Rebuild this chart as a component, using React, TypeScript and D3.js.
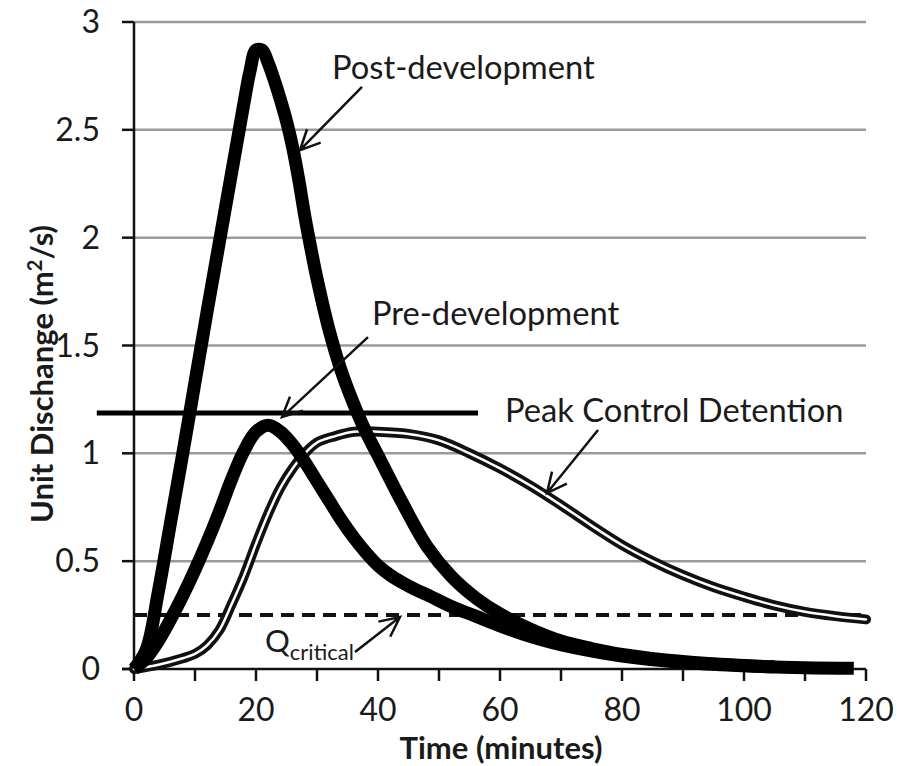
import React from "react";
import * as d3 from "d3";

const W = 902;
const H = 766;

const xTicks = [0, 20, 40, 60, 80, 100, 120];
const xMinorTicks = [0, 10, 20, 30, 40, 50, 60, 70, 80, 90, 100, 110, 120];
const yTicks = [0, 0.5, 1, 1.5, 2, 2.5, 3];
const yTickLabels = ["0", "0.5", "1", "1.5", "2", "2.5", "3"];

const postTime = [0, 2, 4, 6, 8, 10, 12, 14, 16, 18, 19, 20, 21, 22, 23, 24, 25, 26, 27, 28, 29, 30, 32, 34, 36, 38, 40, 44, 48, 52, 56, 60, 65, 70, 75, 80, 90, 100, 105];
const postFlow = [0, 0.09, 0.36, 0.68, 1.0, 1.33, 1.66, 1.98, 2.3, 2.62, 2.77, 2.87, 2.87, 2.81, 2.73, 2.64, 2.54, 2.42, 2.27, 2.1, 1.95, 1.81, 1.57, 1.38, 1.23, 1.1, 0.99, 0.77, 0.57, 0.43, 0.33, 0.255, 0.185, 0.13, 0.095, 0.068, 0.035, 0.016, 0.01];

const preTime = [0, 2, 4, 6, 8, 10, 12, 14, 16, 18, 20, 22, 24, 26, 28, 30, 32, 34, 36, 38, 40, 42, 44, 46, 48, 52, 56, 60, 64, 68, 72, 80, 90, 100, 110, 118];
const preFlow = [0, 0.05, 0.13, 0.23, 0.34, 0.46, 0.59, 0.73, 0.88, 1.01, 1.1, 1.13, 1.1, 1.04, 0.96, 0.87, 0.78, 0.69, 0.61, 0.54, 0.48, 0.435, 0.4, 0.37, 0.345, 0.29, 0.245, 0.2, 0.16, 0.127, 0.1, 0.06, 0.03, 0.015, 0.006, 0.003];

const detTime = [0, 4, 8, 10, 12, 14, 16, 18, 20, 22, 24, 26, 28, 30, 33, 36, 40, 45, 50, 55, 60, 65, 70, 75, 80, 85, 90, 95, 100, 105, 110, 115, 120];
const detFlow = [0, 0.02, 0.05, 0.07, 0.11, 0.18, 0.3, 0.43, 0.58, 0.72, 0.84, 0.93, 1.0, 1.05, 1.08, 1.1, 1.1, 1.09, 1.06, 1.0, 0.93, 0.85, 0.76, 0.665, 0.575, 0.5, 0.435, 0.38, 0.335, 0.295, 0.265, 0.245, 0.23];

const qCritical = 0.25;
const peakLine = { t0: -6.1, t1: 56.4, v: 1.187 };

// annotation texts and arrows, in data units (minutes, m2/s)
const labels = [
  { text: "Post-development", t: 32.46, v: 2.736 },
  { text: "Pre-development", t: 39.0, v: 1.595 },
  { text: "Peak Control Detention", t: 60.82, v: 1.145 },
];
const arrows = [
  { t0: 37.38, v0: 2.699, t1: 27.21, v1: 2.406 },
  { t0: 38.36, v0: 1.539, t1: 24.26, v1: 1.168 },
  { t0: 76.07, v0: 1.108, t1: 67.7, v1: 0.816 },
  { t0: 36.23, v0: 0.079, t1: 43.6, v1: 0.241 },
];
const qLabel = { t: 21.48, v: 0.079 };

export default function App() {
  const x = d3.scaleLinear().domain([0, 120]).range([134, 866]);
  const y = d3.scaleLinear().domain([0, 3]).range([669, 22]);

  const line = d3
    .line<[number, number]>()
    .x((d) => x(d[0]))
    .y((d) => y(d[1]))
    .curve(d3.curveCatmullRom.alpha(0.5));

  const post = line(postTime.map((t, i) => [t, postFlow[i]]) as [number, number][]) || "";
  const pre = line(preTime.map((t, i) => [t, preFlow[i]]) as [number, number][]) || "";
  const det = line(detTime.map((t, i) => [t, detFlow[i]]) as [number, number][]) || "";

  const font = "Lato, 'Open Sans', sans-serif";

  const arrowPath = (a: { t0: number; v0: number; t1: number; v1: number }) => {
    const x0 = x(a.t0), y0 = y(a.v0), x1 = x(a.t1), y1 = y(a.v1);
    const ang = Math.atan2(y0 - y1, x0 - x1);
    const L = 22;
    const spread = 0.45;
    const bx1 = x1 + L * Math.cos(ang + spread);
    const by1 = y1 + L * Math.sin(ang + spread);
    const bx2 = x1 + L * Math.cos(ang - spread);
    const by2 = y1 + L * Math.sin(ang - spread);
    return `M${x0},${y0}L${x1},${y1}M${bx1},${by1}L${x1},${y1}L${bx2},${by2}`;
  };

  return (
    <svg
      width={W}
      height={H}
      style={{ position: "absolute", left: 0, top: 0, background: "#fff" }}
      fontFamily={font}
    >
      <rect x={0} y={0} width={W} height={H} fill="#fff" />
      {/* gridlines */}
      {yTicks.slice(1).map((v) => (
        <line key={"g" + v} x1={x(0)} x2={x(120)} y1={y(v)} y2={y(v)} stroke="#9a9a9a" strokeWidth={2.5} />
      ))}
      {/* y axis */}
      <line x1={x(0)} x2={x(0)} y1={y(3)} y2={y(0)} stroke="#111" strokeWidth={2.5} />
      {yTicks.map((v, i) => (
        <g key={"yt" + v}>
          <line x1={x(0) - 12} x2={x(0)} y1={y(v)} y2={y(v)} stroke="#111" strokeWidth={2.5} />
          <text x={100} y={y(v) + 11} textAnchor="end" fontSize={32} fill="#1a1a1a">
            {yTickLabels[i]}
          </text>
        </g>
      ))}
      {/* x axis */}
      <line x1={x(0) - 12} x2={x(120)} y1={y(0)} y2={y(0)} stroke="#111" strokeWidth={2.5} />
      {xMinorTicks.map((t) => (
        <line key={"xm" + t} x1={x(t)} x2={x(t)} y1={y(0)} y2={y(0) + 12} stroke="#111" strokeWidth={2.5} />
      ))}
      {xTicks.map((t) => (
        <text key={"xt" + t} x={x(t)} y={721} textAnchor="middle" fontSize={32} fill="#1a1a1a">
          {t}
        </text>
      ))}

      {/* axis titles */}
      <text x={501} y={759} textAnchor="middle" fontSize={31} fontWeight="bold" fill="#1a1a1a">
        Time (minutes)
      </text>
      <text
        transform={`translate(53,374) rotate(-90)`}
        textAnchor="middle"
        fontSize={31}
        fontWeight="bold"
        fill="#1a1a1a"
      >
        Unit Dischange (m<tspan dy={-11} fontSize={20}>2</tspan>
        <tspan dy={11}>/s)</tspan>
      </text>

      {/* Q critical dashed line */}
      <line
        x1={x(0)}
        x2={x(120)}
        y1={y(qCritical)}
        y2={y(qCritical)}
        stroke="#111"
        strokeWidth={4}
        strokeDasharray="13 8"
      />

      {/* curves */}
      <path d={det} fill="none" stroke="#111" strokeWidth={10} strokeLinecap="round" />
      <path d={det} fill="none" stroke="#fff" strokeWidth={2.5} strokeLinecap="round" />
      <path d={pre} fill="none" stroke="#000" strokeWidth={13} strokeLinejoin="round" />
      <path d={post} fill="none" stroke="#000" strokeWidth={13} strokeLinejoin="round" />

      {/* peak horizontal line */}
      <line x1={x(peakLine.t0)} x2={x(peakLine.t1)} y1={y(peakLine.v)} y2={y(peakLine.v)} stroke="#000" strokeWidth={5} />

      {/* annotations */}
      {labels.map((l) => (
        <text key={l.text} x={x(l.t)} y={y(l.v)} fontSize={32.7} fill="#1a1a1a">
          {l.text}
        </text>
      ))}
      <text x={x(qLabel.t)} y={y(qLabel.v)} fontSize={31} fill="#1a1a1a">
        Q<tspan dy={8} fontSize={22}>critical</tspan>
      </text>
      {arrows.map((a, i) => (
        <path key={"a" + i} d={arrowPath(a)} fill="none" stroke="#111" strokeWidth={2.5} />
      ))}
    </svg>
  );
}
